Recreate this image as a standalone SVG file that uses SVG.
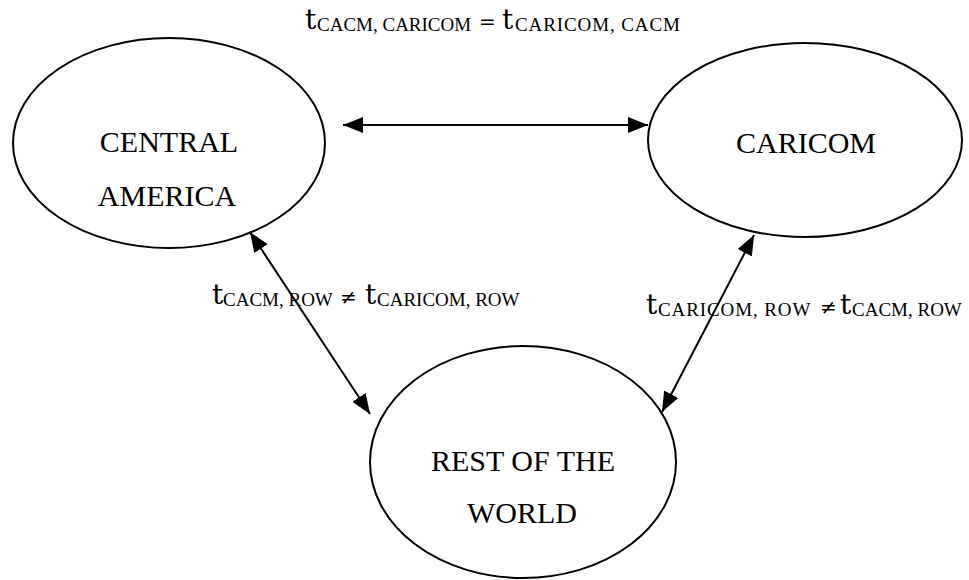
<svg xmlns="http://www.w3.org/2000/svg" width="969" height="580" viewBox="0 0 969 580">
<style>
.node ellipse{fill:none;stroke:#000;stroke-width:2}
.node text{font-family:"Liberation Serif",serif;font-size:30px;fill:#000;text-anchor:middle}
.edge line{stroke:#000;stroke-width:2;marker-start:url(#ah);marker-end:url(#ah)}
.lbl text{fill:#000}
.t{font-family:"DejaVu Serif",serif;font-size:28px}
.s{font-family:"Liberation Serif",serif;font-size:19px}
.w{letter-spacing:0.9px}
.op{font-family:"DejaVu Serif",serif;font-size:20px}
</style>
<defs>
<marker id="ah" markerUnits="userSpaceOnUse" markerWidth="20" markerHeight="16" refX="20" refY="8" orient="auto-start-reverse">
<path d="M0,0 L20,8 L0,16 z" fill="#000"/>
</marker>
</defs>
<rect width="969" height="580" fill="#fff"/>
<g id="central-america" class="node">
<ellipse cx="169" cy="143" rx="156" ry="105"/>
<text x="169" y="152">CENTRAL</text>
<text x="167" y="206">AMERICA</text>
</g>
<g id="caricom" class="node">
<ellipse cx="805" cy="140" rx="157" ry="97"/>
<text x="806" y="153">CARICOM</text>
</g>
<g id="rest-of-world" class="node">
<ellipse cx="523" cy="462" rx="153" ry="116"/>
<text x="523" y="471">REST OF THE</text>
<text x="522" y="523">WORLD</text>
</g>
<g id="connectors" class="edge">
<line x1="343" y1="125" x2="648" y2="125"/>
<line x1="250" y1="232" x2="370" y2="414"/>
<line x1="754" y1="235" x2="662" y2="412"/>
</g>
<g id="labels" class="lbl">
<text x="305" y="29" class="t">t</text>
<text x="317" y="31" class="s">CACM, CARICOM</text>
<text x="479" y="29" class="op">=</text>
<text x="502" y="29" class="t">t</text>
<text x="515" y="31" class="s w">CARICOM, CACM</text>

<text x="212" y="304" class="t">t</text>
<text x="223" y="306" class="s">CACM, ROW</text>
<text x="340" y="304" class="op">≠</text>
<text x="365" y="304" class="t">t</text>
<text x="377" y="306" class="s">CARICOM, ROW</text>

<text x="646" y="314" class="t">t</text>
<text x="658" y="316" class="s w">CARICOM, ROW</text>
<text x="820" y="314" class="op">≠</text>
<text x="840" y="314" class="t">t</text>
<text x="852" y="316" class="s">CACM, ROW</text>
</g>
</svg>
